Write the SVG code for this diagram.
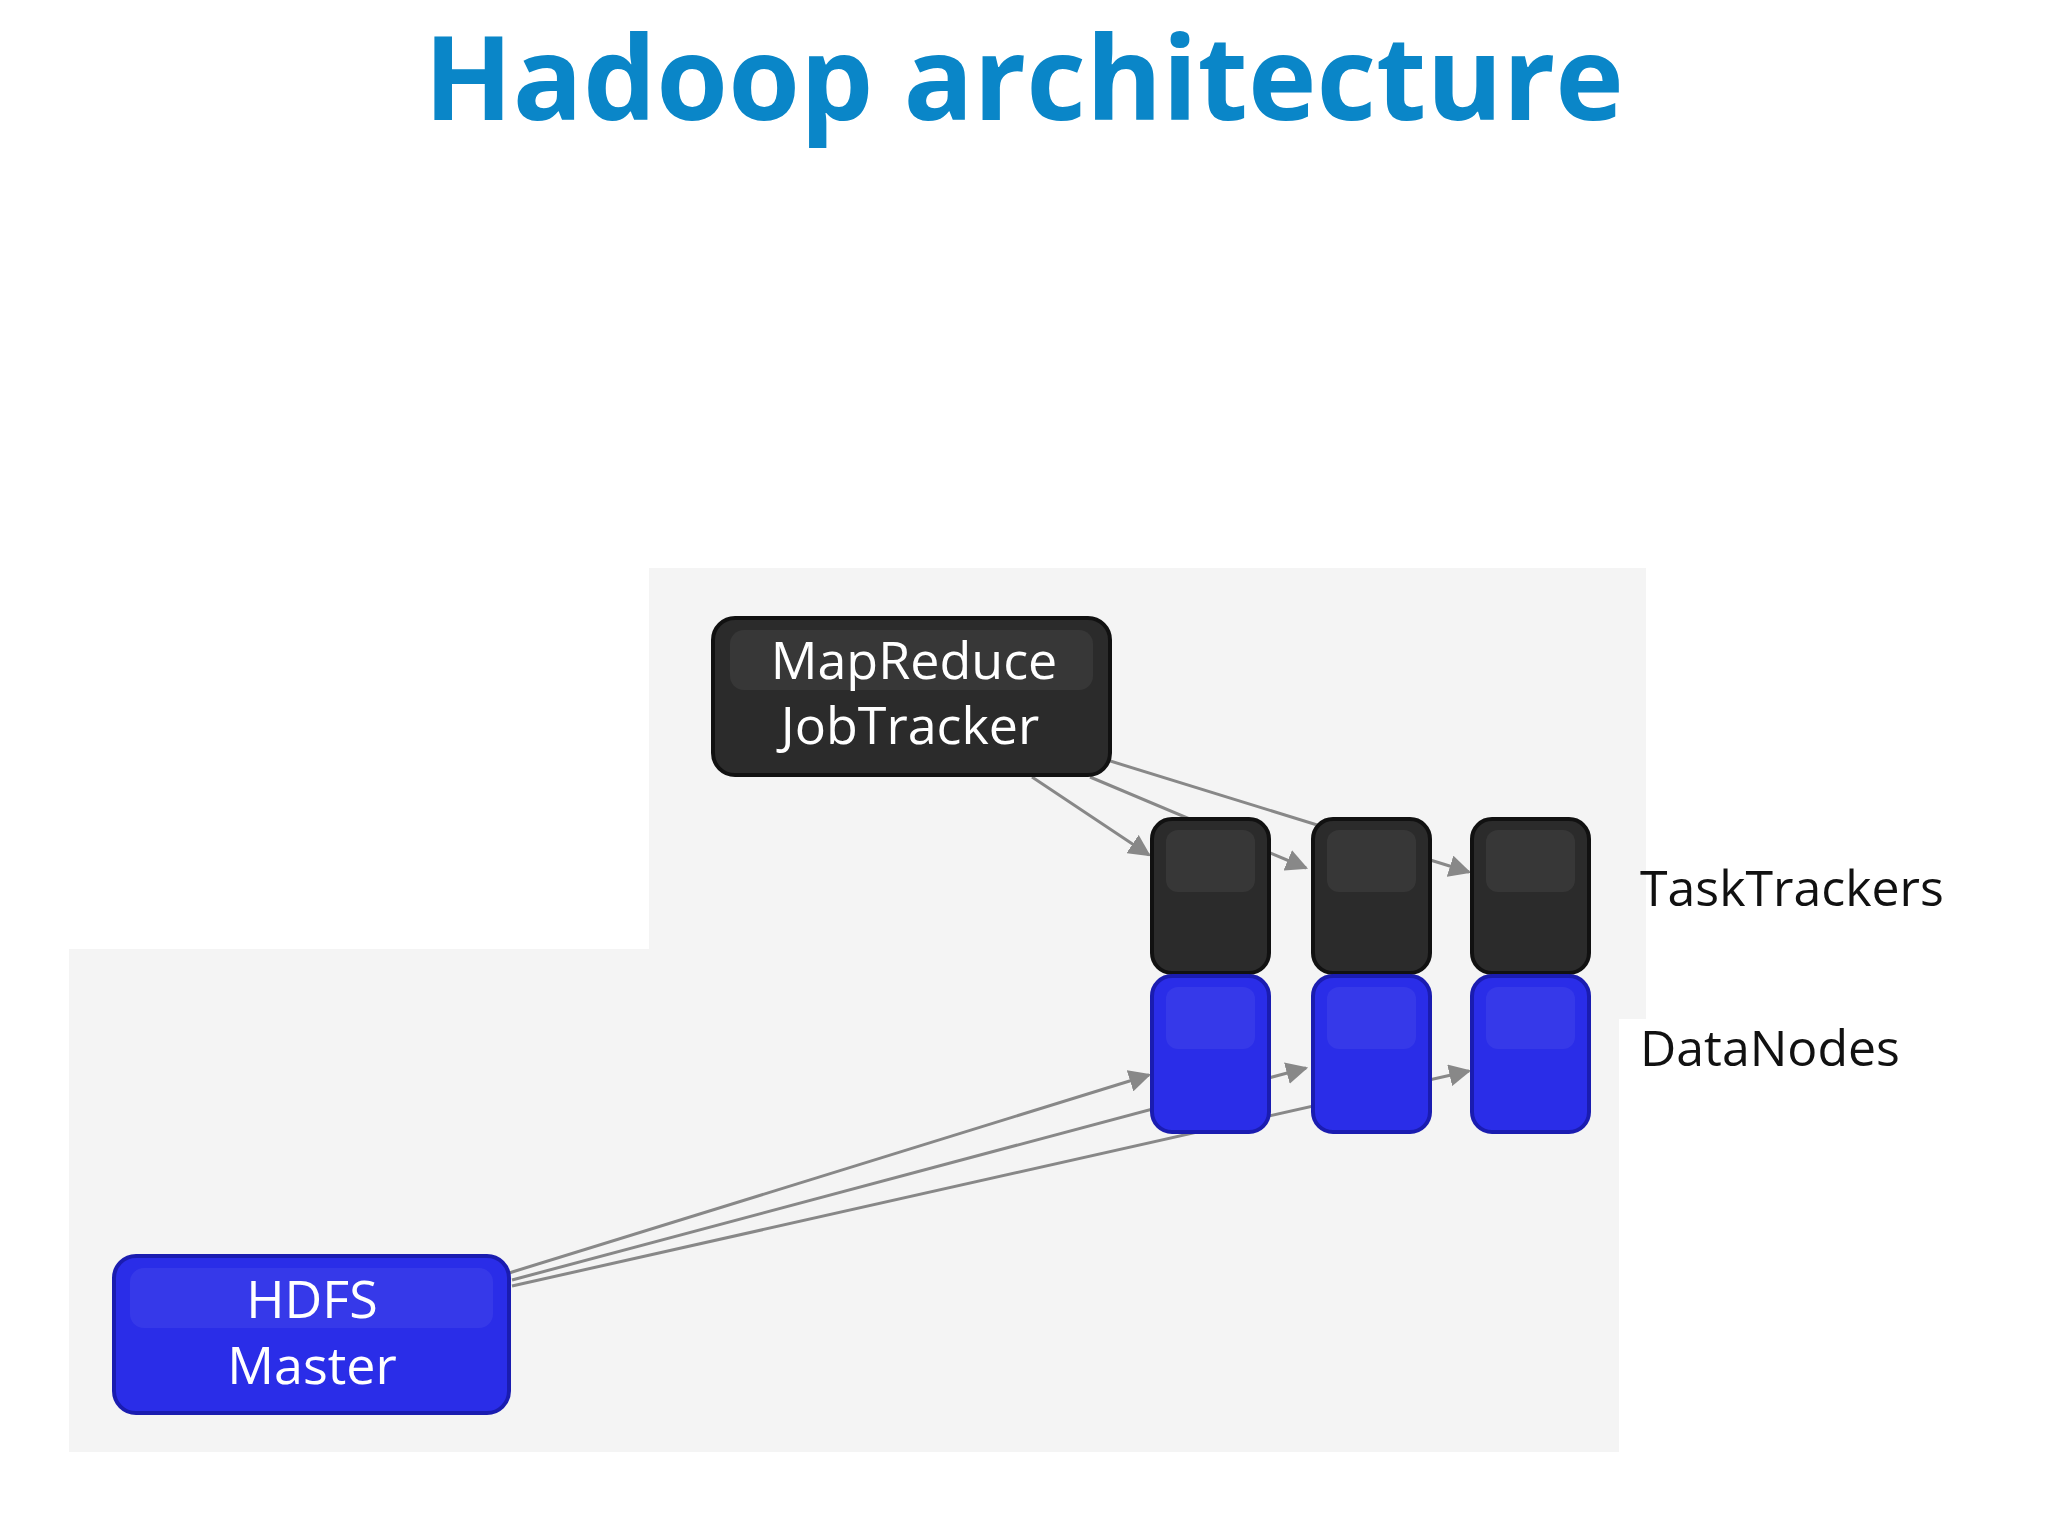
<svg xmlns="http://www.w3.org/2000/svg" width="2048" height="1535" viewBox="0 0 2048 1535">
<defs>
<style>
.bk{fill:#2b2b2b;stroke:#111;stroke-width:4}
.bl{fill:#2a2de8;stroke:#1a1cb0;stroke-width:4}
.hl{fill:#ffffff;opacity:0.06}
.wt{font-family:"Open Sans","Noto Sans",sans-serif;font-size:52px;fill:#fff;text-anchor:middle}
.lb{font-family:"Open Sans","Noto Sans",sans-serif;font-size:50px;fill:#111}
.cn{stroke:#888;stroke-width:3;fill:none;marker-end:url(#ah)}
</style>
<marker id="ah" viewBox="0 0 10 10" refX="9" refY="5" markerWidth="22" markerHeight="22" orient="auto" markerUnits="userSpaceOnUse"><path d="M0,0L10,5L0,10z" fill="#888"/></marker>
</defs>
<rect width="2048" height="1535" fill="#fff"/>
<rect x="649" y="568" width="997" height="451" fill="#f4f4f4"/>
<rect x="69" y="949" width="1550" height="503" fill="#f4f4f4"/>
<text x="1024" y="120" font-family="'Open Sans','Noto Sans',sans-serif" font-weight="bold" font-size="116" fill="#0a86c8" text-anchor="middle">Hadoop architecture</text>
<g id="connectors">
<path class="cn" d="M1032,777L1149,855"/>
<path class="cn" d="M1090,777L1306,868"/>
<path class="cn" d="M1107,760L1469,872"/>
<path class="cn" d="M509,1273L1149,1075"/>
<path class="cn" d="M512,1280L1306,1068"/>
<path class="cn" d="M512,1286L1469,1071"/>
</g>
<g id="jobtracker">
<rect class="bk" x="713" y="618" width="397" height="157" rx="22"/>
<rect class="hl" x="730" y="630" width="363" height="60" rx="14"/>
<text class="wt" x="914" y="679">MapReduce</text>
<text class="wt" x="910" y="744">JobTracker</text>
</g>
<g id="hdfs">
<rect class="bl" x="114" y="1256" width="395" height="157" rx="22"/>
<rect class="hl" x="130" y="1268" width="363" height="60" rx="14"/>
<text class="wt" x="312" y="1318">HDFS</text>
<text class="wt" x="312" y="1384">Master</text>
</g>
<g id="tt1"><rect class="bk" x="1152" y="819" width="117" height="154" rx="20"/><rect class="hl" x="1166" y="830" width="89" height="62" rx="12"/></g>
<g id="tt2"><rect class="bk" x="1313" y="819" width="117" height="154" rx="20"/><rect class="hl" x="1327" y="830" width="89" height="62" rx="12"/></g>
<g id="tt3"><rect class="bk" x="1472" y="819" width="117" height="154" rx="20"/><rect class="hl" x="1486" y="830" width="89" height="62" rx="12"/></g>
<g id="dn1"><rect class="bl" x="1152" y="976" width="117" height="156" rx="20"/><rect class="hl" x="1166" y="987" width="89" height="62" rx="12"/></g>
<g id="dn2"><rect class="bl" x="1313" y="976" width="117" height="156" rx="20"/><rect class="hl" x="1327" y="987" width="89" height="62" rx="12"/></g>
<g id="dn3"><rect class="bl" x="1472" y="976" width="117" height="156" rx="20"/><rect class="hl" x="1486" y="987" width="89" height="62" rx="12"/></g>
<text class="lb" x="1640" y="906">TaskTrackers</text>
<text class="lb" x="1640" y="1066">DataNodes</text>
</svg>
